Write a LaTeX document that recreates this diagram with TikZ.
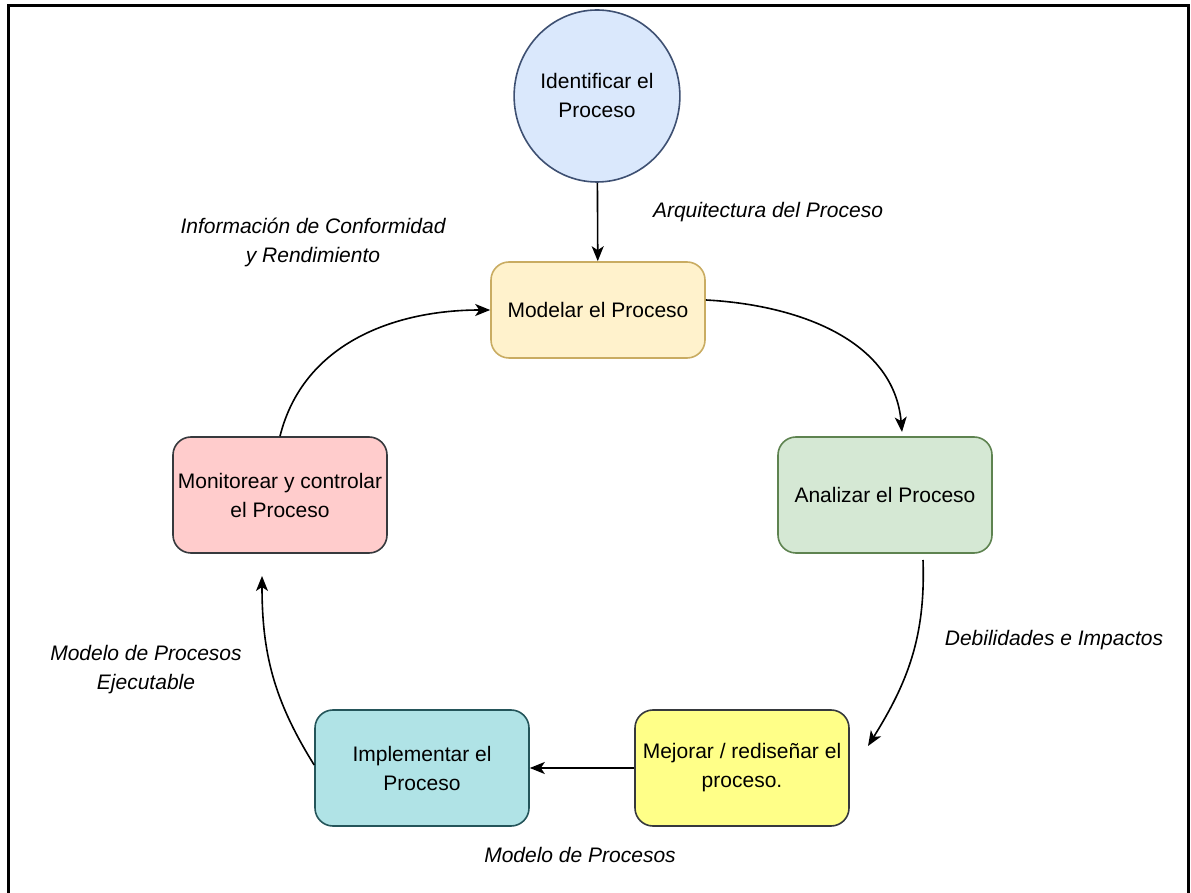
\documentclass[tikz,border=0pt]{standalone}
\usepackage{fontspec}
\setmainfont{Liberation Sans}
\usetikzlibrary{arrows.meta,shapes.geometric}
\definecolor{idfill}{HTML}{DAE8FC}
\definecolor{iddraw}{HTML}{3E5072}
\definecolor{mofill}{HTML}{FFF2CC}
\definecolor{modraw}{HTML}{C9AC62}
\definecolor{anfill}{HTML}{D5E8D4}
\definecolor{andraw}{HTML}{5E8350}
\definecolor{mefill}{HTML}{FFFF88}
\definecolor{medraw}{HTML}{36393D}
\definecolor{imfill}{HTML}{B0E3E6}
\definecolor{imdraw}{HTML}{24555A}
\definecolor{mcfill}{HTML}{FFCCCC}
\definecolor{mcdraw}{HTML}{36393D}
\tikzset{
  stepbox/.style={rectangle,rounded corners=18pt,line width=1.6pt,align=center,
    minimum width=214pt,minimum height=116pt,inner sep=2pt},
  flowlabel/.style={align=center,font=\fontsize{21}{29}\selectfont\itshape},
  flowarrow/.style={line width=1.6pt,-{Stealth[length=15pt,width=12pt,inset=4pt]}}
}
\begin{document}
\begin{tikzpicture}[x=1pt,y=1pt,font=\fontsize{21}{29}\selectfont]
			\useasboundingbox (0,0) rectangle (1191,892);
			\draw[line width=3pt] (8,-10) -- (8,886) -- (1188,886) -- (1188,-10);
			\begin{scope}[every node/.style={stepbox}]
				\node[ellipse,fill=idfill,draw=iddraw,minimum width=161pt,minimum height=172pt,rounded corners=0pt] (I) at (597,796) {Identificar el\\Proceso};
				\node[fill=mofill,draw=modraw,minimum height=96pt] (M) at (598,582) {Modelar el Proceso};
				\node[fill=anfill,draw=andraw] (A) at (885,397) {Analizar el Proceso};
				\node[fill=mefill,draw=medraw] (R) at (742,124) {Mejorar / rediseñar el\\proceso.};
				\node[fill=imfill,draw=imdraw] (P) at (422,124) {Implementar el\\Proceso};
				\node[fill=mcfill,draw=mcdraw] (C) at (280,397) {Monitorear y controlar\\el Proceso};
			\end{scope}
			\begin{scope}[every node/.style={flowlabel}]
				\node (arq) at (768,680) {Arquitectura del Proceso};
				\node (inf) at (313,650) {Información de Conformidad\\y Rendimiento};
				\node (deb) at (1054,252) {Debilidades e Impactos};
				\node (mod) at (580,37) {Modelo de Procesos};
				\node (eje) at (146,222) {Modelo de Procesos\\Ejecutable};
			\end{scope}
			\coordinate (a2) at (902,460);
			\coordinate (a3s) at (923,332);
			\coordinate (a3e) at (868,146);
			\coordinate (a5) at (262,316);
			\begin{scope}[every path/.style={flowarrow}]
				\path (I) edge (M);
				\path ([yshift=10pt]M.east) edge[out=-3,in=95] (a2);
				\path (a3s) edge[out=-88,in=58] (a3e);
				\path (R) edge (P);
				\path ([yshift=3pt]P.west) edge[out=122,in=-90] (a5);
				\path (C.north) edge[out=76,in=180] (M.west);
			\end{scope}
		\end{tikzpicture}
\end{document}
